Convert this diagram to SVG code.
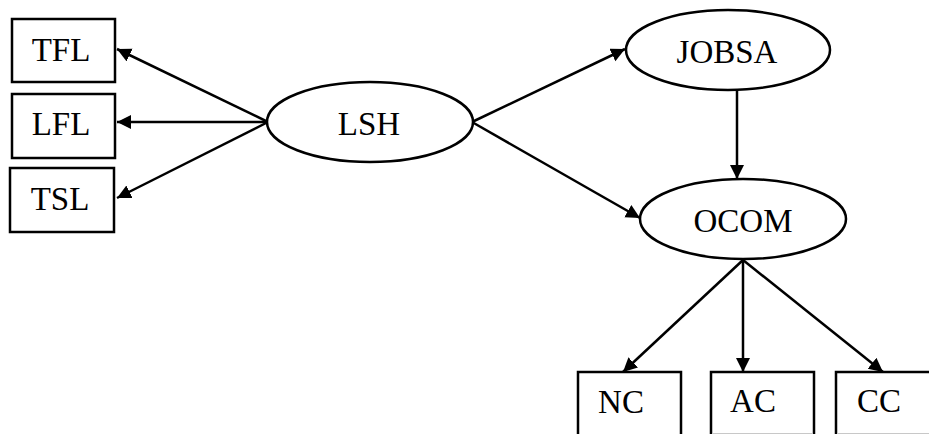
<svg xmlns="http://www.w3.org/2000/svg" width="929" height="434" viewBox="0 0 929 434">
  <style>
    .box { fill: #fff; stroke: #000; stroke-width: 2.5; }
    .oval { fill: #fff; stroke: #000; stroke-width: 2.5; }
    .lbl { font-family: "Liberation Serif", "Times New Roman", serif; font-size: 33px; fill: #000; text-anchor: middle; }
    .edge { fill: none; stroke: #000; stroke-width: 2.5; marker-end: url(#arrow); }
    .cut { stroke: #c8c8c8; stroke-width: 1; }
  </style>
  <defs>
    <marker id="arrow" markerUnits="userSpaceOnUse" markerWidth="16" markerHeight="16" refX="14" refY="7" orient="auto">
      <path d="M0,0 L14,7 L0,14 Z" fill="#000"/>
    </marker>
  </defs>
  <rect width="929" height="434" fill="#fff"/>

  <g id="connectors">
    <line class="edge" x1="268" y1="122" x2="117" y2="49"/>
    <line class="edge" x1="268" y1="122" x2="117" y2="122"/>
    <line class="edge" x1="268" y1="122" x2="117" y2="198"/>
    <line class="edge" x1="472" y1="122" x2="625" y2="49"/>
    <line class="edge" x1="472" y1="122" x2="640" y2="218"/>
    <line class="edge" x1="737" y1="90" x2="737" y2="179"/>
    <line class="edge" x1="743" y1="260" x2="623" y2="372"/>
    <line class="edge" x1="743" y1="260" x2="743" y2="372"/>
    <line class="edge" x1="743" y1="260" x2="883" y2="372"/>
  </g>

  <g id="TFL">
    <rect class="box" x="12" y="19" width="103" height="63"/>
    <text class="lbl" x="61" y="61">TFL</text>
  </g>
  <g id="LFL">
    <rect class="box" x="12" y="94" width="103" height="64"/>
    <text class="lbl" x="61" y="135">LFL</text>
  </g>
  <g id="TSL">
    <rect class="box" x="10" y="168" width="104" height="64"/>
    <text class="lbl" x="60" y="210">TSL</text>
  </g>

  <g id="LSH">
    <ellipse class="oval" cx="370" cy="122" rx="103" ry="40"/>
    <text class="lbl" x="369" y="135">LSH</text>
  </g>
  <g id="JOBSA">
    <ellipse class="oval" cx="728" cy="50" rx="102" ry="40"/>
    <text class="lbl" x="727" y="63">JOBSA</text>
  </g>
  <g id="OCOM">
    <ellipse class="oval" cx="743" cy="219" rx="103" ry="40"/>
    <text class="lbl" x="743" y="232">OCOM</text>
  </g>

  <g id="NC">
    <rect class="box" x="578" y="372" width="103" height="70"/>
    <text class="lbl" x="621" y="413">NC</text>
  </g>
  <g id="AC">
    <rect class="box" x="711" y="372" width="103" height="70"/>
    <line class="cut" x1="712" y1="433.5" x2="813" y2="433.5"/>
    <text class="lbl" x="753" y="412">AC</text>
  </g>
  <g id="CC">
    <rect class="box" x="836" y="372" width="110" height="70"/>
    <line class="cut" x1="837" y1="433.5" x2="929" y2="433.5"/>
    <text class="lbl" x="879" y="412">CC</text>
  </g>
</svg>
